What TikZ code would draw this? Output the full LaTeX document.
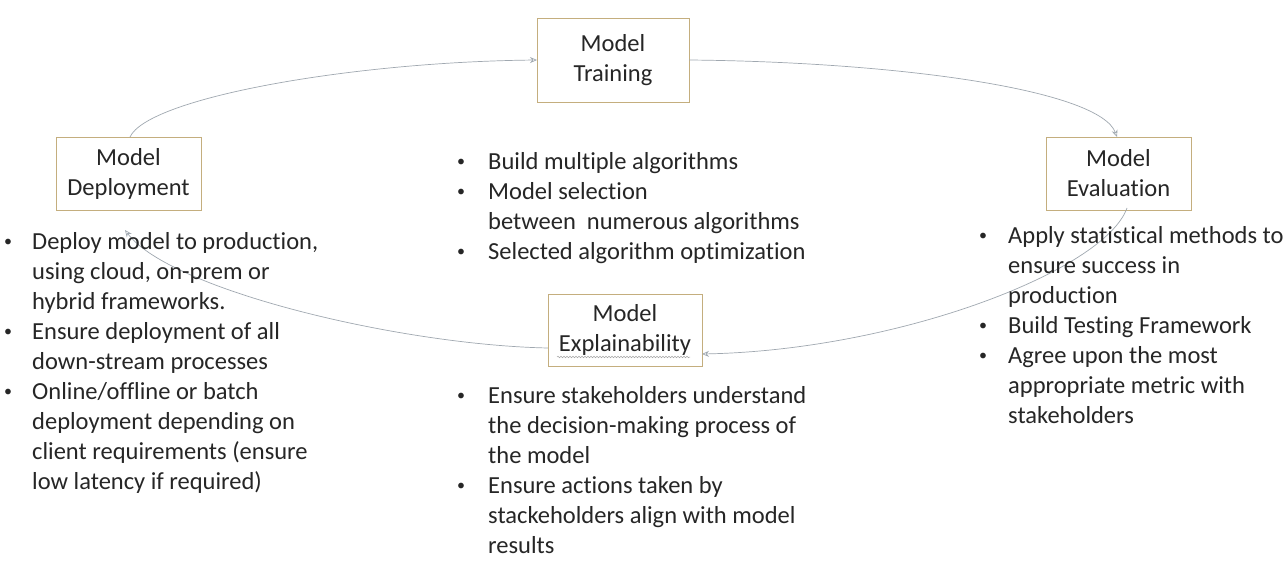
\documentclass[tikz,border=0pt]{standalone}
\usepackage{fontspec}
\setmainfont{Carlito}[Ligatures={NoCommon}]
\usetikzlibrary{arrows.meta,decorations.pathmorphing}
\definecolor{boxline}{RGB}{196,174,126}
\definecolor{conncol}{RGB}{160,168,176}
\definecolor{txt}{RGB}{38,38,38}
\newlength{\bulw}
\setlength{\bulw}{28pt}
\newcommand{\bu}{\makebox[\bulw][l]{\raisebox{2.6pt}{\fontsize{16}{16}\selectfont\textbullet}}}
\newcommand{\nb}{\makebox[\bulw][l]{}}
\tikzset{
  stage/.style={draw=boxline, line width=0.9pt, fill=white, align=center, inner sep=0pt,
    font=\fontsize{24.5}{30}\selectfont, text=txt},
  blist/.style={anchor=north west, inner sep=0pt, align=left, text=txt,
    font=\fontsize{24.5}{30}\selectfont\setlength{\bulw}{#1}},
  conn/.style={draw=conncol, line width=0.7pt, -{Stealth[length=7pt,width=6pt,open]}},
  squiggle/.style={draw=gray!70, line width=0.5pt, decorate,
    decoration={snake, segment length=3pt, amplitude=0.8pt}}
}
\begin{document}
\begin{tikzpicture}[x=1pt,y=-1pt]
\useasboundingbox (0,0) rectangle (1286,567);
\fill[white] (0,0) rectangle (1286,567);

% stage boxes
\node[stage, minimum width=152pt, minimum height=84pt] (train) at (613,60) {Model\\Training};
\node[stage, minimum width=145pt, minimum height=73pt] (dep) at (128.5,173.5) {Model\\Deployment};
\node[stage, minimum width=145pt, minimum height=73pt] (eval) at (1118.5,173.5) {Model\\Evaluation};
\node[stage, minimum width=154pt, minimum height=72pt] (expl) at (625,330) {Model\\Explainability};

% spell-check squiggle under Explainability
\coordinate (sqa) at (557,357);
\coordinate (sqb) at (690,357);
\draw[squiggle] (sqa) -- (sqb);

% connector anchor points
\coordinate (depTop) at (130,137);
\coordinate (trainIn) at (537,60);
\coordinate (trainOut) at (689,60);
\coordinate (evalIn) at (1117,137);
\coordinate (evalOut) at (1127,208);
\coordinate (explIn) at (702,354);
\coordinate (explOut) at (548,348);
\coordinate (depIn) at (125,230);

\draw[conn] (depTop) .. controls (148,98) and (350,62) .. (trainIn);
\draw[conn] (trainOut) .. controls (900,62) and (1100,90) .. (evalIn);
\draw[conn] (evalOut) .. controls (1105,270) and (900,350) .. (explIn);
\draw[conn] (explOut) .. controls (400,345) and (170,290) .. (depIn);

% text blocks
\node[blist=31pt] (trainTxt) at (457,152) {%
\bu Build multiple algorithms\\
\bu Model selection\\
\nb between\ \ numerous algorithms\\
\bu Selected algorithm optimization};

\node[blist=28pt] (depTxt) at (4,232) {%
\bu Deploy model to production,\\
\nb using cloud, on-prem or\\
\nb hybrid frameworks.\\
\bu Ensure deployment of all\\
\nb down-stream processes\\
\bu Online/offline or batch\\
\nb deployment depending on\\
\nb client requirements (ensure\\
\nb low latency if required)};

\node[blist=29pt] (evalTxt) at (979,226) {%
\bu Apply statistical methods to\\
\nb ensure success in\\
\nb production\\
\bu Build Testing Framework\\
\bu Agree upon the most\\
\nb appropriate metric with\\
\nb stakeholders};

\node[blist=31pt] (explTxt) at (457,386) {%
\bu Ensure stakeholders understand\\
\nb the decision-making process of\\
\nb the model\\
\bu Ensure actions taken by\\
\nb stackeholders align with model\\
\nb results};
\end{tikzpicture}
\end{document}
